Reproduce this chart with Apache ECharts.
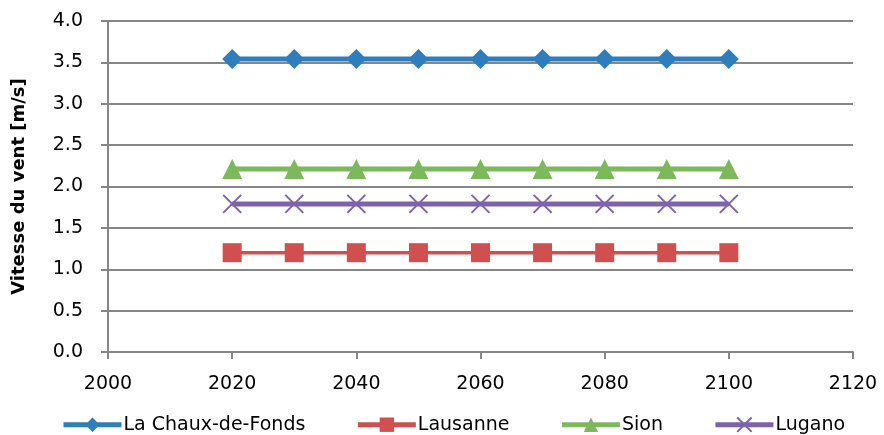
<!DOCTYPE html>
<html><head><meta charset="utf-8">
<script src="https://cdn.jsdelivr.net/npm/echarts@6/dist/echarts.min.js"></script>
<style>html,body{margin:0;padding:0;background:#fff}#c{width:884px;height:435px}</style>
</head><body><div id="c"></div>
<script>
const years = [2020, 2030, 2040, 2050, 2060, 2070, 2080, 2090, 2100];
const chauxDeFonds = [3.54, 3.54, 3.54, 3.54, 3.54, 3.54, 3.54, 3.54, 3.54];
const lausanne = [1.2, 1.2, 1.2, 1.2, 1.2, 1.2, 1.2, 1.2, 1.2];
const sion = [2.21, 2.21, 2.21, 2.21, 2.21, 2.21, 2.21, 2.21, 2.21];
const lugano = [1.79, 1.79, 1.79, 1.79, 1.79, 1.79, 1.79, 1.79, 1.79];
const seriesNames = ['La Chaux-de-Fonds', 'Lausanne', 'Sion', 'Lugano'];

const font = "DejaVu Sans";
function pairs(v){ return years.map((y,i)=>[y, v[i]]); }
const chart = echarts.init(document.getElementById('c'));
const defs = [
  {name: seriesNames[0], data: chauxDeFonds, color: '#2e7ebd', symbol: 'diamond', size: 20, width: 5},
  {name: seriesNames[1], data: lausanne, color: '#d0504f', symbol: 'rect', size: 19, width: 3.5},
  {name: seriesNames[2], data: sion, color: '#7cb95b', symbol: 'triangle', size: 20, width: 5},
  {name: seriesNames[3], data: lugano, color: '#7f63aa', symbol: 'path://M0,0 L10,10 M10,0 L0,10', size: 18, width: 5}
];
chart.setOption({
  animation: false,
  grid: {left: 108, right: 31, top: 21, bottom: 83},
  legend: {
    top: 410, left: 56, itemWidth: 58, itemHeight: 18, itemGap: 50,
    textStyle: {fontFamily: font, fontSize: 19, color: '#000', padding: [0,0,0,-3]},
    lineStyle: {width: 5},
    data: seriesNames
  },
  xAxis: {
    type: 'value', min: 2000, max: 2120, interval: 20,
    axisLine: {show: true, lineStyle: {color: '#868686', width: 2}},
    axisTick: {show: true, length: 7, lineStyle: {color: '#868686', width: 2}},
    splitLine: {show: false},
    axisLabel: {fontFamily: font, fontSize: 19, color: '#000', margin: 23, formatter: v => String(v)}
  },
  yAxis: {
    type: 'value', min: 0, max: 4, interval: 0.5,
    name: 'Vitesse du vent [m/s]', nameLocation: 'middle', nameGap: 80,
    nameTextStyle: {fontFamily: font, fontSize: 18, fontWeight: 'bold', color: '#000'},
    axisLine: {show: true, lineStyle: {color: '#868686', width: 2}},
    axisTick: {show: true, length: 7, lineStyle: {color: '#868686', width: 2}},
    splitLine: {show: true, lineStyle: {color: '#868686', width: 2}},
    axisLabel: {fontFamily: font, fontSize: 19, color: '#000', margin: 25, formatter: v => v.toFixed(1)}
  },
  series: defs.map(d => ({
    name: d.name, type: 'line', data: pairs(d.data),
    symbol: d.symbol, symbolSize: d.size, showSymbol: true,
    lineStyle: {color: d.color, width: d.width},
    itemStyle: d.symbol.startsWith('path') ? {color: 'none', borderColor: d.color, borderWidth: 2} : {color: d.color},
    z: 3
  }))
});
</script></body></html>
